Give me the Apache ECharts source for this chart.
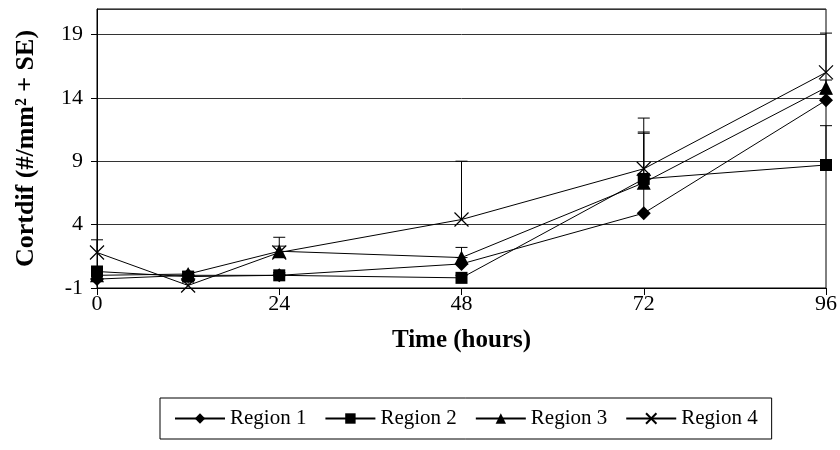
<!DOCTYPE html>
<html>
<head>
<meta charset="utf-8">
<script src="https://cdn.jsdelivr.net/npm/echarts@6/dist/echarts.min.js"></script>
<style>
  html, body { margin: 0; padding: 0; background: #fff; }
  #chart { width: 840px; height: 450px; }
</style>
</head>
<body>
<div id="chart"></div>
<script>
// time points (hours)
const hours = [0, 12, 24, 48, 72, 96]
const xTicks = [0, 24, 48, 72, 96]
const yTicks = [-1, 4, 9, 14, 19]

const regionNames = ['Region 1', 'Region 2', 'Region 3', 'Region 4']
const region1 = [-0.3, 0.0, 0.0, 0.9, 4.9, 13.8]
const region2 = [0.3, -0.1, 0.0, -0.2, 7.6, 8.7]
const region3 = [0.0, 0.1, 1.9, 1.4, 7.3, 14.8]
const region4 = [1.8, -0.8, 1.8, 4.4, 8.4, 16.0]

// + SE
const se1 = [0.3, 0.2, 0.2, 0.5, 3.0, 0.5]
const se2 = [0.4, 0.2, 0.2, 0.2, 3.6, 3.1]
const se3 = [0.3, 0.2, 1.1, 0.8, 4.0, 0.6]
const se4 = [1.0, 0.3, 0.5, 4.6, 4.0, 3.1]

const values = [region1, region2, region3, region4]
const errors = [se1, se2, se3, se4]
const symbols = [
  'diamond',
  'rect',
  'triangle',
  'path://M0,0L10,10M10,0L0,10'
]
const symbolSizes = [14, 12, 14, 14]

const FONT = '"Liberation Serif", "Times New Roman", serif'

const chart = echarts.init(document.getElementById('chart'))

const lineSeries = regionNames.map((name, i) => ({
  name: name,
  type: 'line',
  data: hours.map((h, j) => [h, values[i][j]]),
  symbol: symbols[i],
  symbolSize: symbolSizes[i],
  showAllSymbol: true,
  z: 3,
  lineStyle: { color: '#000', width: 1 },
  itemStyle: i === 3
    ? { color: 'rgba(0,0,0,0)', borderColor: '#000', borderWidth: 1.2 }
    : { color: '#000', borderColor: '#000', borderWidth: 0 },
  emphasis: { disabled: true },
  animation: false
}))

// error bars (value up to value + SE)
const errData = []
values.forEach((vals, i) => {
  vals.forEach((v, j) => {
    errData.push([hours[j], v, v + errors[i][j]])
  })
})

const errSeries = {
  type: 'custom',
  z: 2,
  silent: true,
  animation: false,
  data: errData,
  renderItem (params, api) {
    const x = api.value(0)
    const p0 = api.coord([x, api.value(1)])
    const p1 = api.coord([x, api.value(2)])
    const half = 6
    const style = { stroke: '#000', lineWidth: 1 }
    return {
      type: 'group',
      children: [
        { type: 'line', shape: { x1: p0[0], y1: p0[1], x2: p1[0], y2: p1[1] }, style: style },
        { type: 'line', shape: { x1: p1[0] - half, y1: p1[1], x2: p1[0] + half, y2: p1[1] }, style: style }
      ]
    }
  }
}

const option = {
  backgroundColor: '#fff',
  animation: false,
  grid: {
    left: 97,
    right: 12,
    top: 9,
    bottom: 162,
    show: true,
    borderColor: '#000',
    borderWidth: 1
  },
  legend: {
    data: regionNames,
    left: 160,
    top: 398,
    orient: 'horizontal',
    padding: [10, 14],
    itemGap: 18,
    itemWidth: 50,
    itemHeight: 13,
    borderColor: '#000',
    borderWidth: 1,
    textStyle: { fontFamily: FONT, fontSize: 21, color: '#000' }
  },
  xAxis: {
    type: 'value',
    min: 0,
    max: 96,
    interval: 24,
    name: 'Time (hours)',
    nameLocation: 'middle',
    nameGap: 40,
    nameTextStyle: { fontFamily: FONT, fontSize: 25, fontWeight: 'bold', color: '#000' },
    axisLine: { onZero: false, lineStyle: { color: '#000', width: 1 } },
    axisTick: { show: true, inside: false, length: 7, lineStyle: { color: '#000' } },
    axisLabel: {
      fontFamily: FONT, fontSize: 22, color: '#000', margin: 5,
      formatter: v => (xTicks.includes(v) ? String(v) : '')
    },
    splitLine: { show: false }
  },
  yAxis: {
    type: 'value',
    min: -1,
    max: 21,
    interval: 5,
    name: 'Cortdif (#/mm² + SE)',
    nameLocation: 'middle',
    nameRotate: 90,
    nameGap: 58,
    nameTextStyle: { fontFamily: FONT, fontSize: 26, fontWeight: 'bold', color: '#000' },
    axisLine: { show: true, lineStyle: { color: '#000', width: 1 } },
    axisTick: { show: true, inside: false, length: 6, lineStyle: { color: '#000' } },
    axisLabel: {
      fontFamily: FONT, fontSize: 22, color: '#000', margin: 14,
      showMaxLabel: false,
      formatter: v => (yTicks.includes(v) ? String(v) : '')
    },
    splitLine: { show: true, lineStyle: { color: '#333', width: 1 } }
  },
  series: [...lineSeries, errSeries]
}

chart.setOption(option)
</script>
</body>
</html>
